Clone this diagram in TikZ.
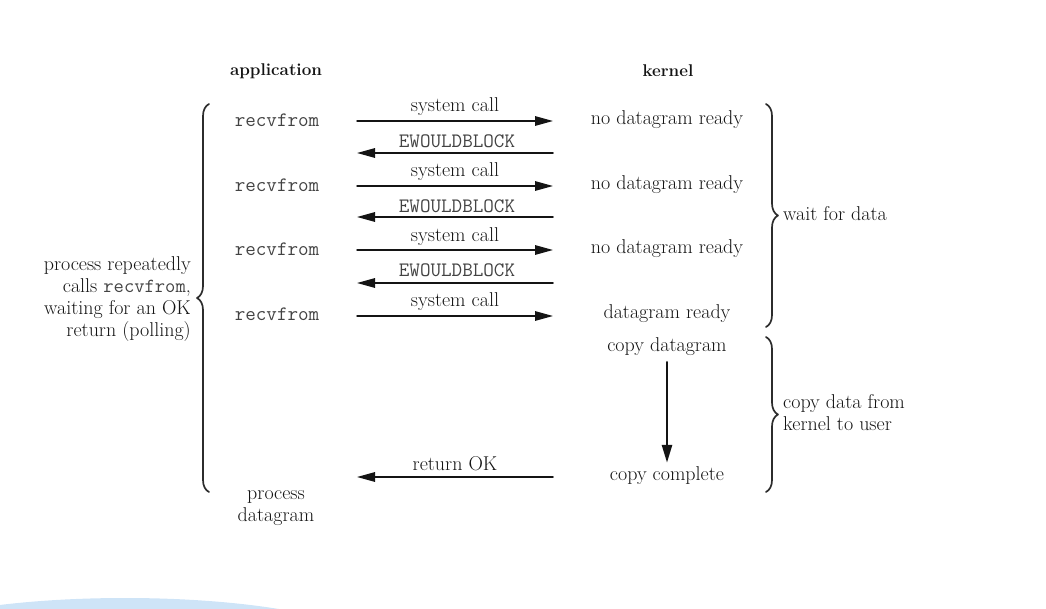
\documentclass[tikz,border=0pt]{standalone}
\usepackage{fontspec}
\usetikzlibrary{arrows.meta,decorations.pathreplacing}
\definecolor{Blob}{RGB}{206,228,247}
\definecolor{Ink}{RGB}{20,20,20}

\begin{document}
\begin{tikzpicture}[x=1pt,y=1pt,line cap=round,line join=round,
  txt/.style={font=\fontsize{20}{22}\selectfont,text=Ink,inner sep=0pt},
  hdr/.style={font=\bfseries\fontsize{17}{20}\selectfont,text=Ink,inner sep=0pt},
  call/.style={font=\ttfamily\fontsize{20.5}{22}\selectfont,text=Ink!80,inner sep=0pt},
  msg/.style={draw=Ink,line width=1.5pt,-{Triangle[length=18pt,width=9.5pt]}},
  brc/.style={draw=Ink!90,line width=1.7pt,decorate,decoration={brace,amplitude=12pt}}]
\path[use as bounding box] (0,0) rectangle (1046,608);
\begin{scope}
\clip (0,0) rectangle (1046,608);
\fill[Blob] (125,-42) ellipse[x radius=250,y radius=52];
\end{scope}
% column heads
\node[hdr] (app) at (276,537) {application};
\node[hdr] (kern) at (668,537) {kernel};
% application side
\node[call] (r1) at (277,488) {recvfrom};
\node[call] (r2) at (277,423) {recvfrom};
\node[call] (r3) at (277,359) {recvfrom};
\node[call] (r4) at (277,294) {recvfrom};
\node[txt,align=center] (proc) at (276,100) {process\\datagram};
\node[txt,align=right,anchor=east] (poll) at (191,309) {process repeatedly\\calls {\ttfamily\color{Ink!80}recvfrom},\\waiting for an OK\\return (polling)};
% kernel side
\node[txt] (k1) at (667,488) {no datagram ready};
\node[txt] (k2) at (667,423) {no datagram ready};
\node[txt] (k3) at (667,359) {no datagram ready};
\node[txt] (k4) at (667,294) {datagram ready};
\node[txt] (cpy) at (667,261) {copy datagram};
\node[txt] (done) at (667,132) {copy complete};
% arrow ends
\coordinate (a1) at (357,487); \coordinate (b1) at (553,487);
\coordinate (a2) at (357,455); \coordinate (b2) at (553,455);
\coordinate (a3) at (357,422); \coordinate (b3) at (553,422);
\coordinate (a4) at (357,391); \coordinate (b4) at (553,391);
\coordinate (a5) at (357,358); \coordinate (b5) at (553,358);
\coordinate (a6) at (357,325); \coordinate (b6) at (553,325);
\coordinate (a7) at (357,292); \coordinate (b7) at (553,292);
\coordinate (a8) at (357,131); \coordinate (b8) at (553,131);
% messages
\draw[msg] (a1) -- (b1);
\node[txt] (sc1) at (455,501) {system call};
\draw[msg] (b2) -- (a2);
\node[call] (ew1) at (457,467) {EWOULDBLOCK};
\draw[msg] (a3) -- (b3);
\node[txt] (sc2) at (455,436) {system call};
\draw[msg] (b4) -- (a4);
\node[call] (ew2) at (457,402) {EWOULDBLOCK};
\draw[msg] (a5) -- (b5);
\node[txt] (sc3) at (455,371) {system call};
\draw[msg] (b6) -- (a6);
\node[call] (ew3) at (457,338) {EWOULDBLOCK};
\draw[msg] (a7) -- (b7);
\node[txt] (sc4) at (455,306) {system call};
\draw[msg] (b8) -- (a8);
\node[txt] (ok) at (455,144) {return OK};
\draw[draw=Ink,line width=2.6pt,-{Triangle[length=18pt,width=10pt]},shorten <=6pt,shorten >=4pt] (cpy) -- (done);
% braces
\draw[brc] (209,116) -- (209,504);
\draw[brc] (766,504) -- (766,281);
\draw[brc] (766,271) -- (766,116);
\node[txt,anchor=west] (wait) at (783,394) {wait for data};
\node[txt,anchor=west,align=left] (copy) at (783,195) {copy data from\\kernel to user};
\end{tikzpicture}
\end{document}
